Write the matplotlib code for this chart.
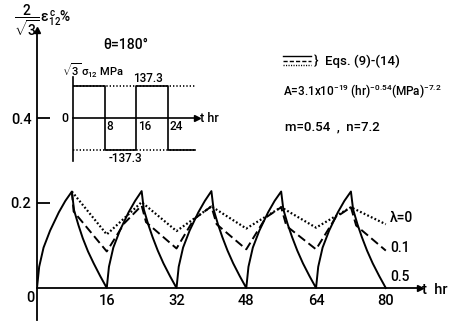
import matplotlib
matplotlib.use('Agg')
import matplotlib.pyplot as plt
from matplotlib.lines import Line2D

# creep strain curves (t in hr, strain in %)
t_solid = [0, 0.5, 1.5, 3, 5, 6.5, 8,
           8.5, 9.5, 10.5, 11.7, 13, 14.5, 16,
           16.5, 17.5, 19, 21, 22.5, 24,
           24.5, 25.5, 26.5, 27.7, 29, 30.5, 32,
           32.5, 33.5, 35, 37, 38.5, 40,
           40.5, 41.5, 42.5, 43.7, 45, 46.5, 48,
           48.5, 49.5, 51, 53, 54.5, 56,
           56.5, 57.5, 58.5, 59.7, 61, 62.5, 64,
           64.5, 65.5, 67, 69, 70.5, 72,
           72.5, 73.5, 74.5, 75.7, 77, 78.5, 80]
v_solid = [0, 0.05, 0.095, 0.135, 0.178, 0.205, 0.227,
           0.183, 0.148, 0.117, 0.086, 0.058, 0.028, 0,
           0.05, 0.095, 0.135, 0.178, 0.205, 0.228,
           0.185, 0.15, 0.12, 0.088, 0.058, 0.028, 0,
           0.05, 0.095, 0.135, 0.178, 0.205, 0.228,
           0.185, 0.15, 0.12, 0.088, 0.058, 0.028, 0,
           0.05, 0.095, 0.135, 0.178, 0.205, 0.227,
           0.185, 0.15, 0.12, 0.088, 0.058, 0.028, 0,
           0.05, 0.095, 0.135, 0.178, 0.205, 0.227,
           0.185, 0.15, 0.12, 0.088, 0.058, 0.028, 0]

t_dash = [8, 8.4, 16, 20, 24, 25, 32, 36, 40, 41.2, 48, 52.5, 56, 57.2, 64, 68.5, 72, 73.2, 80]
v_dash = [0.227, 0.18, 0.086, 0.152, 0.194, 0.155, 0.093, 0.162, 0.192, 0.15,
          0.091, 0.166, 0.19, 0.146, 0.091, 0.166, 0.19, 0.147, 0.088]

t_dot = [8, 16, 24, 32, 40, 48, 56, 64, 72, 80]
v_dot = [0.227, 0.126, 0.202, 0.134, 0.192, 0.14, 0.19, 0.142, 0.19, 0.15]

lam_labels = ['λ=0', '0.1', '0.5']
x_ticks = [16, 32, 48, 64, 80]
y_ticks = [0.2, 0.4]

# inset: applied stress history
t_stress = [0, 8, 16, 24, 31]
s_stress = [137.3, -137.3, 137.3, -137.3, -137.3]
s_amp = 137.3

plt.rcParams['font.family'] = ['Roboto', 'DejaVu Sans']
plt.rcParams['font.weight'] = 'medium'
plt.rcParams['mathtext.fontset'] = 'custom'
plt.rcParams['mathtext.rm'] = 'Roboto:medium'
plt.rcParams['mathtext.it'] = 'Roboto:medium'
plt.rcParams['mathtext.bf'] = 'Roboto:bold'

W, H = 455, 322
fig = plt.figure(figsize=(W / 100, H / 100), dpi=100)


def px(x, y):
    return x / W, 1 - y / H


def rect(x0, y0, x1, y1):
    return [x0 / W, 1 - y1 / H, (x1 - x0) / W, (y1 - y0) / H]


# main axes: t=0 at x=37px, 4.36 px/hr; 0 at y=288px, 425 px per unit
ax = fig.add_axes(rect(37, 30, 420, 320))
ax.set_xlim(0, (420 - 37) / 4.36)
ax.set_ylim(-(320 - 288) / 425, (288 - 30) / 425)
ax.patch.set_alpha(0)
for s in ['top', 'right']:
    ax.spines[s].set_visible(False)
ax.spines['bottom'].set_position(('data', 0))
ax.spines['left'].set_linewidth(1.3)
ax.spines['bottom'].set_linewidth(1.3)
ax.plot(1, 0, '>k', ms=5, transform=ax.get_yaxis_transform(), clip_on=False)
ax.plot(0, 1, '^k', ms=5, transform=ax.get_xaxis_transform(), clip_on=False)

lw = 1.4
ax.plot(t_solid, v_solid, color='black', lw=lw)
ax.plot(t_dash, v_dash, color='black', lw=lw, linestyle=(0, (4.5, 2.2)))
ax.plot(t_dot, v_dot, color='black', lw=1.6, linestyle=(0, (0.8, 1.0)))

ax.set_xticks(x_ticks)
ax.set_xticklabels([str(v) for v in x_ticks])
ax.tick_params(axis='x', length=0, pad=4, labelsize=10.5)
ax.set_yticks(y_ticks)
ax.set_yticklabels([str(v) for v in y_ticks])
ax.tick_params(axis='y', direction='in', length=9, width=1.3, pad=4, labelsize=10.5)

fs = dict(color='black')
fig.text(*px(30, 298), '0', ha='center', va='center', fontsize=10.5, **fs)
fig.text(*px(422, 290), 't  hr', ha='left', va='center', fontsize=10.5, **fs)
fig.text(*px(14, 20), r'$\dfrac{2}{\sqrt{3}}\,\epsilon^{c}_{12}$%', ha='left', va='center',
         fontsize=10, **fs)
for lab, y in zip(lam_labels, [218, 248, 277]):
    fig.text(*px(390, y), lab, ha='left', va='center', fontsize=10, **fs)

fig.text(*px(126, 45), 'θ=180°', ha='center', va='center', fontsize=10, **fs)

# legend-like sample lines and equation text
for y, ls in zip([56, 60.5, 65], ['-', (0, (3, 1.5)), (0, (0.8, 1.0))]):
    fig.add_artist(Line2D([283 / W, 311 / W], [1 - y / H, 1 - y / H], color='black',
                          lw=1.0, linestyle=ls, transform=fig.transFigure))
fig.text(*px(314, 61), '}  Eqs. (9)-(14)', ha='left', va='center', fontsize=9.5, **fs)
fig.text(*px(283, 92), r'A=3.1x10$^{-19}$ (hr)$^{-0.54}$(MPa)$^{-7.2}$', ha='left',
         va='center', fontsize=8.5, **fs)
fig.text(*px(285, 127), 'm=0.54  ,  n=7.2', ha='left', va='center', fontsize=9.5, **fs)

# inset: stress history, t=0 at x=73px, 3.94 px/hr; 0 at y=118px, 32px per 137.3
ai = fig.add_axes(rect(73, 77, 197, 161))
ai.set_xlim(0, (197 - 73) / 3.94)
ai.set_ylim(-(161 - 118) / 32 * s_amp, (118 - 77) / 32 * s_amp)
ai.patch.set_alpha(0)
for s in ['top', 'right']:
    ai.spines[s].set_visible(False)
ai.spines['bottom'].set_position(('data', 0))
ai.spines['left'].set_linewidth(1.2)
ai.spines['bottom'].set_linewidth(1.2)
ai.set_xticks([])
ai.set_yticks([])
ai.plot(1, 0, '>k', ms=4, transform=ai.get_yaxis_transform(), clip_on=False)
ai.hlines([s_amp, -s_amp], 0, t_stress[-1], color='black', lw=1.2, linestyle=(0, (0.8, 1.2)))
ai.step(t_stress, s_stress, where='post', color='black', lw=1.2)

fig.text(*px(62, 71), r'$\sqrt{3}\,\sigma_{12}$ MPa', ha='left', va='center', fontsize=8, **fs)
fig.text(*px(148, 79), '137.3', ha='center', va='center', fontsize=8.5, **fs)
fig.text(*px(125, 159), '-137.3', ha='center', va='center', fontsize=8.5, **fs)
fig.text(*px(68, 118), '0', ha='right', va='center', fontsize=9, **fs)
for lab, x in zip(['8', '16', '24'], [106, 138, 170]):
    fig.text(*px(x, 127), lab, ha='left', va='center', fontsize=8.5, **fs)
fig.text(*px(200, 118), 't hr', ha='left', va='center', fontsize=9, **fs)

fig.savefig('out.png', dpi=100)
